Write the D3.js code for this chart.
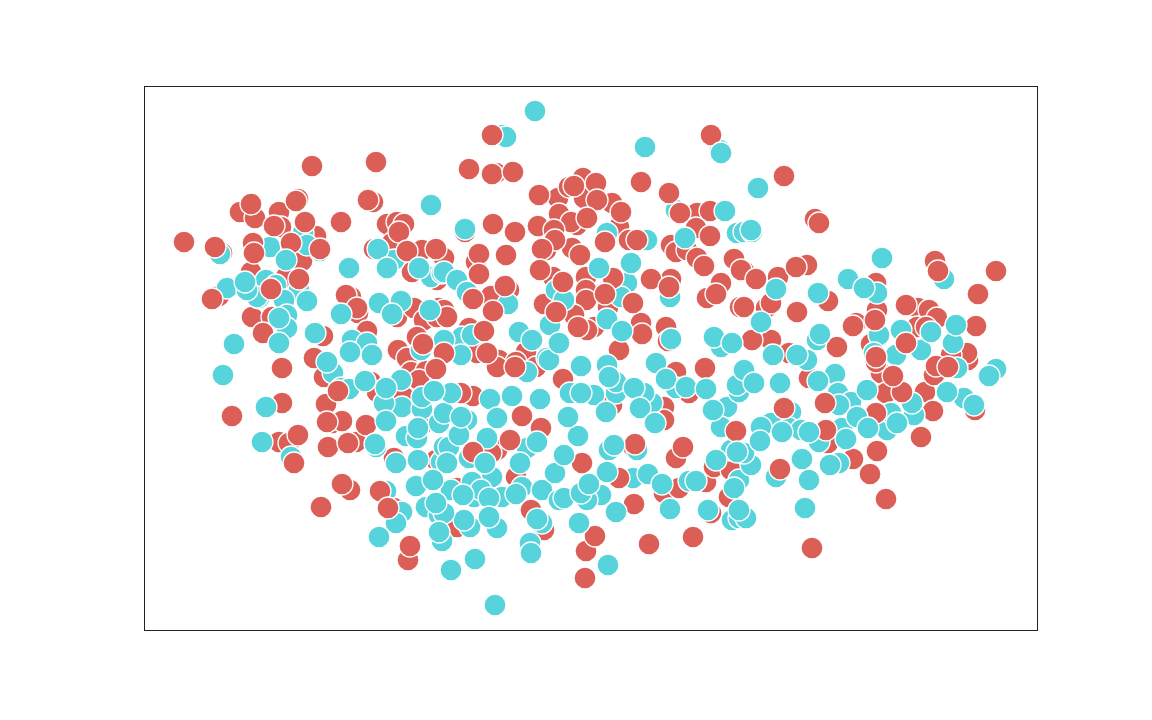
<!DOCTYPE html>
<html><head><meta charset="utf-8">
<script src="https://cdn.jsdelivr.net/npm/d3@7"></script>
<style>html,body{margin:0;background:#fff}svg{display:block}</style></head>
<body><div id="chart"></div>
<script>
const redBack=[[78,377],[96,418],[111,412],[135,418],[154,431],[137,403],[229,428],[172,394],[158,369],[107,358],[75,334],[142,353],[108,313],[128,313],[119,297],[207,333],[202,335],[214,317],[223,299],[179,294],[253,313],[270,322],[280,310],[295,322],[293,313],[230,381],[243,406],[253,408],[260,406],[248,387],[278,380],[268,358],[293,350],[273,293],[254,280],[263,272],[207,287],[170,272],[138,262],[352,457],[414,432],[425,443],[439,452],[440,432],[468,427],[415,416],[433,405],[475,403],[402,380],[428,382],[485,390],[321,398],[300,372],[332,368],[365,340],[347,334],[300,320],[303,313],[409,353],[442,353],[442,340],[442,330],[464,323],[527,351],[400,326],[430,315],[450,303],[443,300],[382,278],[497,307],[475,280],[522,303],[524,289],[553,417],[552,402],[527,385],[532,378],[543,380],[553,372],[560,364],[577,347],[563,332],[596,323],[325,302],[333,277],[355,270],[372,268],[671,411],[663,365],[600,359],[634,353],[622,322],[627,327],[600,323],[627,290],[645,277],[712,307],[732,347],[733,320],[727,286],[774,322],[785,320],[793,312],[773,303],[782,303],[791,369],[135,188],[145,187],[188,207],[198,209],[212,188],[180,253],[227,248],[233,238],[267,258],[282,259],[275,250],[260,233],[280,207],[250,172],[292,170],[206,140],[250,122],[313,103],[400,100],[386,83],[387,120],[329,234],[317,237],[397,202],[353,180],[347,177],[372,153],[313,142],[520,137],[535,142],[562,148],[490,182],[532,172],[468,225],[419,251],[520,223],[520,210],[532,258],[545,237],[570,163],[587,160],[585,133],[567,117],[353,263],[392,263],[709,171],[684,187],[665,252],[737,257],[742,237],[781,238],[789,219],[831,220],[790,255],[824,270],[823,277],[807,275],[732,268],[792,264]];
const tealMid=[[76,376],[126,383],[159,397],[176,379],[163,385],[83,342],[122,350],[132,345],[155,340],[115,332],[113,333],[103,340],[140,330],[163,329],[143,315],[143,302],[250,370],[287,353],[298,357],[277,280],[208,290],[223,287],[228,275],[358,495],[362,493],[576,480],[463,397],[503,390],[300,358],[313,350],[323,338],[364,326],[483,347],[412,340],[420,330],[477,333],[526,333],[463,311],[406,305],[375,298],[532,420],[593,397],[600,398],[577,283],[318,293],[328,295],[300,290],[317,275],[403,272],[437,264],[463,265],[512,267],[608,398],[629,275],[663,270],[673,290],[733,337],[735,295],[730,277],[757,300],[809,287],[752,275],[777,280],[800,351],[147,173],[189,257],[183,268],[197,242],[205,241],[232,183],[257,250],[258,223],[240,227],[278,221],[262,194],[273,192],[295,207],[300,217],[278,233],[297,168],[300,183],[272,144],[282,123],[295,115],[258,118],[252,107],[242,139],[298,89],[323,210],[343,192],[383,182],[325,172],[348,153],[378,143],[358,133],[328,148],[307,140],[330,133],[337,140],[345,132],[305,183],[303,167],[315,195],[307,237],[326,103],[320,110],[300,117],[398,107],[398,140],[415,130],[420,132],[457,135],[443,130],[465,180],[493,180],[426,237],[450,235],[472,237],[472,248],[508,227],[500,237],[490,242],[532,242],[583,223],[577,203],[595,238],[593,245],[600,260],[587,180],[572,170],[595,150],[590,142],[588,110],[595,112],[386,87],[405,270],[383,258],[545,149],[489,152],[504,156],[632,153],[607,165],[600,177],[602,112],[647,218],[645,202],[627,207],[617,203],[657,200],[610,247],[691,256],[694,237],[707,228],[695,225],[698,202],[675,188],[695,167],[743,200],[747,217],[770,215],[768,227],[820,232],[852,261],[813,262]];
const redTop=[[168,464],[232,468],[40,388],[71,383],[107,426],[152,429],[130,404],[161,408],[197,408],[224,430],[109,387],[110,377],[147,387],[176,381],[68,331],[155,351],[127,341],[213,322],[255,398],[263,379],[292,381],[279,286],[300,277],[348,495],[325,461],[348,456],[369,458],[567,495],[497,448],[525,437],[395,435],[430,444],[452,447],[453,430],[477,418],[427,408],[443,412],[394,404],[410,400],[411,390],[398,381],[436,375],[461,388],[493,390],[349,406],[371,398],[335,376],[335,356],[362,375],[361,344],[329,331],[349,319],[396,360],[419,348],[469,352],[461,336],[489,327],[507,351],[525,343],[412,318],[434,303],[498,296],[536,417],[566,419],[566,394],[590,371],[597,360],[572,336],[340,299],[343,277],[640,454],[675,407],[652,363],[612,351],[653,318],[608,290],[684,329],[709,304],[693,283],[731,310],[762,325],[762,287],[832,304],[834,336],[852,359],[794,359],[88,214],[138,227],[154,195],[150,167],[182,226],[183,208],[184,183],[204,187],[222,205],[194,239],[292,261],[198,146],[177,123],[236,139],[244,122],[264,70],[266,84],[441,52],[442,79],[451,94],[505,86],[549,93],[490,126],[378,214],[366,190],[329,178],[438,167],[475,152],[491,186],[539,183],[561,262],[371,263],[592,199],[668,82],[742,131],[726,156],[733,179],[777,193],[682,200],[636,161],[640,222],[681,227],[732,217],[758,238],[804,263],[749,254],[732,273]];
const tealTop=[[287,425],[142,370],[101,348],[135,312],[135,287],[90,286],[205,362],[197,316],[171,297],[235,327],[257,329],[248,316],[286,320],[234,381],[243,362],[275,362],[206,278],[391,519],[501,483],[577,477],[321,401],[455,362],[487,367],[388,290],[415,287],[478,299],[527,291],[541,392],[581,419],[570,293],[588,287],[614,442],[607,400],[632,341],[617,308],[653,275],[674,337],[676,296],[738,372],[704,351],[720,342],[787,298],[812,305],[79,255],[122,223],[118,188],[231,186],[221,249],[242,242],[290,239],[242,209],[274,202],[252,167],[274,170],[289,150],[292,127],[295,98],[235,93],[307,60],[351,25],[464,65],[331,71],[387,77],[435,107],[353,102],[345,113],[393,111],[472,118],[526,121],[564,120],[437,137],[445,146],[411,157],[420,175],[434,194],[424,213],[396,231],[368,234],[346,231],[353,212],[317,213],[393,188],[341,167],[376,167],[372,136],[319,135],[463,158],[518,146],[552,149],[470,185],[462,218],[465,253],[437,237],[496,222],[511,207],[522,251],[542,243],[562,241],[569,220],[593,178],[595,120],[665,150],[658,171],[661,122],[686,165],[702,191],[638,198],[616,189],[665,198],[636,247],[674,249],[713,213],[724,202],[753,207],[723,240],[803,238],[830,225],[845,254]];
const RED="#db5f57",TEAL="#57d3db";
const layers=[[redBack,RED],[tealMid,TEAL],[redTop,RED],[tealTop,TEAL]];
const W=1152,H=720,m={l:144,r:1037,t:86,b:630};
const x=d3.scaleLinear().domain([0,893]).range([m.l,m.r]);
const y=d3.scaleLinear().domain([0,544]).range([m.b,m.t]);
const svg=d3.select("#chart").append("svg").attr("width",W).attr("height",H);
layers.forEach(([pts,c])=>{
  svg.append("g").selectAll("circle").data(pts).join("circle")
    .attr("cx",d=>x(d[0])).attr("cy",d=>y(d[1])).attr("r",11)
    .attr("fill",c).attr("stroke","#fff").attr("stroke-width",1.3);
});
svg.append("rect").attr("x",m.l+0.5).attr("y",m.t+0.5).attr("width",m.r-m.l).attr("height",m.b-m.t)
  .attr("fill","none").attr("stroke","#222").attr("stroke-width",1);
</script></body></html>
